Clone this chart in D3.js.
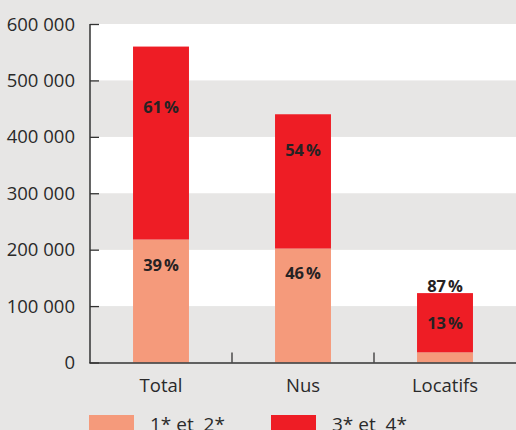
<!DOCTYPE html>
<html>
<head>
<meta charset="utf-8">
<script src="https://cdn.jsdelivr.net/npm/d3@7"></script>
<style>
  body { margin: 0; background: #e7e6e5; }
  svg { display: block; font-family: "Open Sans", sans-serif; }
</style>
</head>
<body>
<div id="chart"></div>
<script>
// data
let categories = ["Total", "Nus", "Locatifs"];
let low_values = [218000, 202000, 18000];     // 1* et 2*
let high_values = [342000, 238000, 105000];   // 3* et 4*
let low_labels = ["39", "46", null];
let high_labels = ["61", "54", "13"];
let top_labels = [null, null, "87"];
let y_ticks = [0, 100000, 200000, 300000, 400000, 500000, 600000];
let legend_names = ["1* et  2*", "3* et  4*"];

let colors = ["#f59a7b", "#ee1d25"];
let band_color = "#e7e6e5";

let w = 516, h = 430;
let m_left = 90, m_right = 516, m_top = 24, m_bottom = 362.5;

let formatNumber = d3.format(",.0f");
let format_w_spaces = function (d) {
    return formatNumber(d).replace(/,/g, " ");
};

let svg = d3.select("#chart").append("svg")
    .attr("width", w)
    .attr("height", h);

svg.append("rect")
    .attr("width", w).attr("height", h)
    .attr("fill", band_color);

const x = d3.scaleBand().domain(categories).range([m_left, m_right]);
const y = d3.scaleLinear().domain([0, 600000]).range([m_bottom, m_top]);

// alternating bands: white on top, grey below
let bands = d3.pairs(y_ticks);
svg.append("g").selectAll("rect")
    .data(bands)
    .enter().append("rect")
    .attr("x", m_left)
    .attr("width", m_right - m_left)
    .attr("y", function (d) { return y(d[1]); })
    .attr("height", function (d) { return y(d[0]) - y(d[1]); })
    .attr("fill", function (d, i) { return i % 2 === 1 ? "#ffffff" : band_color; });

// stacked bars
let bar_w = x.bandwidth() * 0.394;
let stack_data = categories.map(function (c, i) {
    return {cat: c, low: low_values[i], high: high_values[i]};
});
let stacked = d3.stack().keys(["low", "high"])(stack_data);

svg.append("g").selectAll("g")
    .data(stacked)
    .enter().append("g")
    .attr("fill", function (d, i) { return colors[i]; })
    .selectAll("rect")
    .data(function (d) { return d; })
    .enter().append("rect")
    .attr("x", function (d) { return x(d.data.cat) + x.bandwidth() / 2 - bar_w / 2; })
    .attr("width", bar_w)
    .attr("y", function (d) { return y(d[1]); })
    .attr("height", function (d) { return y(d[0]) - y(d[1]); });

// axes
let yAxis = d3.axisRight(y)
    .tickValues(y_ticks)
    .tickSize(9)
    .tickFormat("");
let gy = svg.append("g")
    .attr("transform", "translate(" + m_left + ",0)")
    .call(yAxis);
gy.select(".domain").remove();
gy.selectAll("line").attr("stroke", "#333").attr("stroke-width", 1.3);

svg.append("line")
    .attr("x1", m_left).attr("x2", m_left)
    .attr("y1", y(600000)).attr("y2", m_bottom + 0.5)
    .attr("stroke", "#333").attr("stroke-width", 1.5);

svg.append("g").selectAll("text")
    .data(y_ticks)
    .enter().append("text")
    .attr("x", 75)
    .attr("y", function (d) { return y(d) + 6.5; })
    .attr("text-anchor", "end")
    .attr("font-size", 18.5)
    .attr("fill", "#2a2a2a")
    .text(function (d) { return format_w_spaces(d); });

svg.append("line")
    .attr("x1", m_left - 0.75).attr("x2", m_right)
    .attr("y1", m_bottom + 0.5).attr("y2", m_bottom + 0.5)
    .attr("stroke", "#333").attr("stroke-width", 1.5);

svg.append("g").selectAll("line")
    .data(categories.slice(1))
    .enter().append("line")
    .attr("x1", function (d) { return x(d); })
    .attr("x2", function (d) { return x(d); })
    .attr("y1", m_bottom - 10).attr("y2", m_bottom)
    .attr("stroke", "#333").attr("stroke-width", 1.3);

svg.append("g").selectAll("text")
    .data(categories)
    .enter().append("text")
    .attr("x", function (d) { return x(d) + x.bandwidth() / 2; })
    .attr("y", 392)
    .attr("text-anchor", "middle")
    .attr("font-size", 18.5)
    .attr("fill", "#2a2a2a")
    .text(function (d) { return d; });

// percentage labels (pixel offsets from segment top, as laid out in the source)
let high_offset = [66, 42, 36];
let low_offset = [31, 30, 0];

function pct_label(g, px, py, value) {
    let t = g.append("text")
        .attr("x", px).attr("y", py)
        .attr("text-anchor", "middle")
        .attr("font-size", 16.5)
        .attr("font-weight", 700)
        .attr("fill", "#262223");
    t.append("tspan").text(value);
    t.append("tspan").attr("dx", 2).text("%");
}

let lbl = svg.append("g");
categories.forEach(function (c, i) {
    let cx = x(c) + x.bandwidth() / 2;
    let low_top = y(low_values[i]);
    let high_top = y(low_values[i] + high_values[i]);
    if (high_labels[i]) pct_label(lbl, cx, high_top + high_offset[i], high_labels[i]);
    if (low_labels[i]) pct_label(lbl, cx, low_top + low_offset[i], low_labels[i]);
    if (top_labels[i]) pct_label(lbl, cx, high_top - 1, top_labels[i]);
});

// legend, cut by the bottom edge
let legend = svg.append("g").selectAll("g")
    .data(legend_names)
    .enter().append("g")
    .attr("transform", function (d, i) { return "translate(" + (89 + i * 182) + ",415)"; });
legend.append("rect")
    .attr("width", 45).attr("height", 20)
    .attr("fill", function (d, i) { return colors[i]; });
legend.append("text")
    .attr("x", 61).attr("y", 16)
    .attr("font-size", 19)
    .attr("fill", "#2a2a2a")
    .style("white-space", "pre")
    .text(function (d) { return d; });
</script>
</body>
</html>
